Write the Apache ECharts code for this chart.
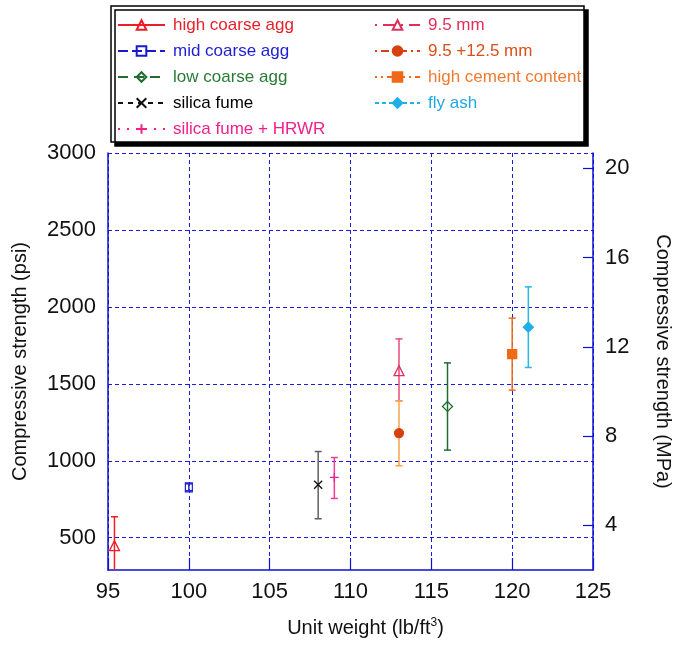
<!DOCTYPE html>
<html>
<head>
<meta charset="utf-8">
<script src="https://cdn.jsdelivr.net/npm/echarts@6/dist/echarts.min.js"></script>
<style>
  html, body { margin: 0; padding: 0; background: #fff; }
  #chart { width: 675px; height: 645px; }
</style>
</head>
<body>
<div id="chart"></div>
<script>
// data
const groupNames = ['high coarse agg', 'mid coarse agg', 'low coarse agg', 'silica fume', 'silica fume + HRWR',
  '9.5 mm', '9.5 +12.5 mm', 'high cement content', 'fly ash'];
const unitWeight = [95.4, 100, 116, 108, 109, 113, 113, 120, 121];
const strengthPsi = [448, 827, 1353, 844, 892, 1586, 1180, 1693, 1868];
const errLow = [260, 805, 1069, 623, 755, 1390, 968, 1459, 1606];
const errHigh = [636, 850, 1636, 1060, 1021, 1792, 1390, 1927, 2130];

const xTicks = [95, 100, 105, 110, 115, 120, 125];
const psiTicks = [500, 1000, 1500, 2000, 2500, 3000];
const mpaTicks = [4, 8, 12, 16, 20];
const PSI_PER_MPA = 145.0377;

// look of each group
const textColors = ['#e8202a', '#1d1dd4', '#2a7a36', '#000000', '#f0208a', '#e0305a', '#d8501a', '#f07a30', '#20a8e0'];
const markColors = ['#ee1c24', '#1a1acc', '#1e6e30', '#111111', '#f0208a', '#e0305a', '#d84010', '#f06818', '#1fb0e8'];
const barColors = ['#ee2020', '#2a2ad0', '#1f6b30', '#606060', '#f03c96', '#e84a7a', '#f7a24a', '#ee6a1a', '#29b6e8'];
const symbols = ['triangle', 'rect', 'diamond', 'path://M0,0L10,10M10,0L0,10', 'path://M5,0L5,10M0,5L10,5',
  'triangle', 'circle', 'rect', 'diamond'];
const symbolSizes = [10, [7, 9], 10, 8, 9, 10, 9, 9, 10];
const filled = [false, false, false, false, false, false, true, true, true];
const dashes = ['solid', [10, 4], [10, 6], [5, 5], [2, 7], [2, 6, 12, 6], [2, 4, 8, 4], [2, 4, 2, 4, 12, 4], [4, 3]];

const FONT = '"Liberation Sans", Arial, sans-serif';

const chart = echarts.init(document.getElementById('chart'));

const pointSeries = groupNames.map((name, i) => ({
  name,
  type: 'line',
  data: [[unitWeight[i], strengthPsi[i]]],
  symbol: symbols[i],
  symbolSize: symbolSizes[i],
  showSymbol: true,
  z: 4,
  lineStyle: { color: markColors[i], width: 1.2, type: dashes[i] },
  itemStyle: {
    color: filled[i] ? markColors[i] : 'transparent',
    borderColor: markColors[i],
    borderWidth: 1.3
  },
  emphasis: { disabled: true }
}));

const errorSeries = {
  name: 'error bars',
  type: 'custom',
  z: 3,
  clip: true,
  data: unitWeight.map((x, i) => [x, errLow[i], errHigh[i]]),
  renderItem: (params, api) => {
    const x = api.value(0);
    const lo = api.coord([x, api.value(1)]);
    const hi = api.coord([x, api.value(2)]);
    const c = barColors[params.dataIndex];
    const cap = 3.5;
    const style = { stroke: c, lineWidth: 1.5 };
    return {
      type: 'group',
      children: [
        { type: 'line', shape: { x1: lo[0], y1: lo[1], x2: hi[0], y2: hi[1] }, style },
        { type: 'line', shape: { x1: lo[0] - cap, y1: lo[1], x2: lo[0] + cap, y2: lo[1] }, style },
        { type: 'line', shape: { x1: hi[0] - cap, y1: hi[1], x2: hi[0] + cap, y2: hi[1] }, style }
      ]
    };
  }
};

const legendBase = {
  orient: 'vertical',
  top: 11,
  itemHeight: 12,
  itemGap: 8,
  selectedMode: false,
  z: 10,
  textStyle: { fontFamily: FONT, fontSize: 17, lineHeight: 18, padding: [0, 0, 0, 3] }
};

const legendItems = groupNames.map((name, i) => ({ name, textStyle: { color: textColors[i] } }));

const gridLine = { show: true, lineStyle: { color: '#1a1ae0', width: 1, type: [4, 3] } };
const plainNumber = v => String(v);

chart.setOption({
  animation: false,
  backgroundColor: '#fff',
  textStyle: { fontFamily: FONT },
  graphic: [{
    type: 'rect',
    z: 1,
    shape: { x: 111, y: 6, width: 473, height: 136 },
    style: {
      fill: '#fff', stroke: '#000', lineWidth: 1.5,
      shadowColor: '#000', shadowOffsetX: 4, shadowOffsetY: 4, shadowBlur: 0
    }
  }],
  legend: [
    Object.assign({}, legendBase, { left: 112, itemWidth: 47, data: legendItems.slice(0, 5) }),
    Object.assign({}, legendBase, { left: 369, itemWidth: 45, data: legendItems.slice(5) })
  ],
  grid: { left: 108, right: 82, top: 153, bottom: 75, outerBoundsMode: 'none', containLabel: false },
  xAxis: {
    type: 'value',
    min: xTicks[0],
    max: xTicks[xTicks.length - 1],
    interval: 5,
    name: 'Unit weight (lb/ft{sup|3})',
    nameLocation: 'middle',
    nameGap: 47,
    nameTextStyle: {
      fontSize: 20, color: '#111', padding: [0, 0, 0, 30],
      rich: { sup: { fontSize: 12, verticalAlign: 'top', padding: [0, 0, 10, 0] } }
    },
    axisLine: { show: true, onZero: false, lineStyle: { color: '#1010d0', width: 1.5 } },
    axisTick: { show: true, inside: true, length: 12, lineStyle: { color: '#1010d0', width: 1.2 } },
    axisLabel: { fontSize: 22, color: '#111', margin: 11, formatter: plainNumber },
    splitLine: gridLine
  },
  yAxis: [
    {
      type: 'value',
      position: 'left',
      min: 2 * PSI_PER_MPA,
      max: 3000,
      name: 'Compressive strength (psi)',
      nameLocation: 'middle',
      nameGap: 78,
      nameTextStyle: { fontSize: 20, color: '#111' },
      axisLine: { show: true, onZero: false, lineStyle: { color: '#1010d0', width: 1.5 } },
      axisTick: { show: false, customValues: psiTicks },
      axisLabel: { fontSize: 22, color: '#111', margin: 12, customValues: psiTicks, formatter: plainNumber },
      splitLine: gridLine
    },
    {
      type: 'value',
      position: 'right',
      min: 2,
      max: 3000 / PSI_PER_MPA,
      name: 'Compressive strength (MPa)',
      nameLocation: 'middle',
      nameRotate: -90,
      nameGap: 60,
      nameTextStyle: { fontSize: 20, color: '#111' },
      axisLine: { show: true, onZero: false, lineStyle: { color: '#1010d0', width: 1.5 } },
      axisTick: { show: true, inside: true, length: 10, customValues: mpaTicks, lineStyle: { color: '#1010d0', width: 1.2 } },
      axisLabel: { fontSize: 22, color: '#111', margin: 12, customValues: mpaTicks, formatter: plainNumber },
      splitLine: { show: false }
    }
  ],
  series: [errorSeries].concat(pointSeries)
});
</script>
</body>
</html>
